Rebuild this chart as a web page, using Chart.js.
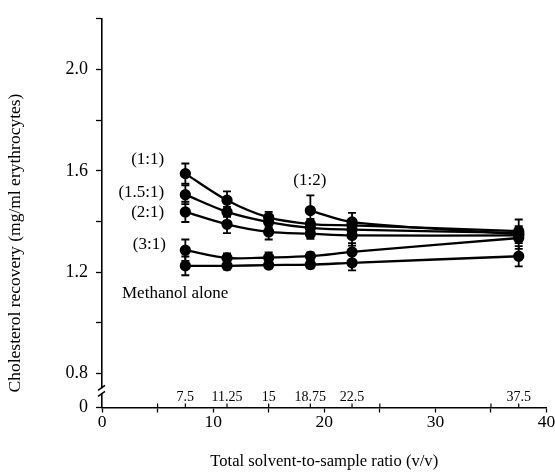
<!DOCTYPE html>
<html>
<head>
<meta charset="utf-8">
<script src="https://cdn.jsdelivr.net/npm/chart.js@4/dist/chart.umd.min.js"></script>
<style>
  html, body { margin: 0; padding: 0; background: #fff; }
  #wrap { width: 555px; height: 472px; }
</style>
</head>
<body>
<div id="wrap"><canvas id="c" width="555" height="472"></canvas></div>
<script>
// ---------- data ----------
const ratios = [7.5, 11.25, 15, 18.75, 22.5, 37.5];
const ratios12 = [18.75, 22.5, 37.5];

const s11   = [1.589, 1.484, 1.416, 1.390, 1.385, 1.362];
const s11e  = [0.040, 0.035, 0.022, 0.020, 0.020, 0.020];
const s151  = [1.506, 1.438, 1.398, 1.375, 1.368, 1.355];
const s151e = [0.037, 0.020, 0.020, 0.020, 0.020, 0.020];
const s21   = [1.438, 1.389, 1.359, 1.352, 1.345, 1.345];
const s21e  = [0.040, 0.035, 0.030, 0.020, 0.040, 0.020];
const s31   = [1.287, 1.256, 1.258, 1.263, 1.280, 1.335];
const s31e  = [0.042, 0.018, 0.020, 0.015, 0.035, 0.020];
const sMeth = [1.225, 1.225, 1.228, 1.230, 1.237, 1.263];
const sMethE= [0.037, 0.015, 0.013, 0.015, 0.030, 0.040];
const s12   = [1.443, 1.398, 1.350];
const s12e  = [0.060, 0.036, 0.058];

const seriesNames = ['(1:1)', '(1.5:1)', '(2:1)', '(3:1)', 'Methanol alone', '(1:2)'];

const xTickValues = [0, 5, 10, 15, 20, 25, 30, 35, 40];
const xTickLabels = ['0', '', '10', '', '20', '', '30', '', '40'];
const innerTickValues = [5, 7.5, 11.25, 15, 18.75, 22.5, 25, 35, 37.5];
const innerLabelValues = [7.5, 11.25, 15, 18.75, 22.5, 37.5];
const innerLabels = ['7.5', '11.25', '15', '18.75', '22.5', '37.5'];

const yTickValues = [0.8, 1.0, 1.2, 1.4, 1.6, 1.8, 2.0, 2.2];
const yTickLabels = ['0.8', '', '1.2', '', '1.6', '', '2.0', ''];
const yZeroLabel = '0';

const xTitle = 'Total solvent-to-sample ratio (v/v)';
const yTitle = 'Cholesterol recovery (mg/ml erythrocytes)';

// ---------- styling / layout (not data) ----------
const Y_BOTTOM = 0.666;   // value where the broken axis shows "0"
const Y_TOP = 2.2;
const FONT = '"Liberation Serif", "DejaVu Serif", serif';
const labelPos = [ // data coords, align
  {x: 5.6, y: 1.645, align: 'right'},
  {x: 5.6, y: 1.515, align: 'right'},
  {x: 5.6, y: 1.436, align: 'right'},
  {x: 5.75, y: 1.310, align: 'right'},
  {x: 1.8, y: 1.114, align: 'left'},
  {x: 18.7, y: 1.563, align: 'center'}
];

function pts(xs, ys) { return xs.map((x, i) => ({x: x, y: ys[i]})); }

const seriesData = [
  {xs: ratios, ys: s11, es: s11e},
  {xs: ratios, ys: s151, es: s151e},
  {xs: ratios, ys: s21, es: s21e},
  {xs: ratios, ys: s31, es: s31e},
  {xs: ratios, ys: sMeth, es: sMethE},
  {xs: ratios12, ys: s12, es: s12e}
];

const datasets = seriesData.map((s, i) => ({
  label: seriesNames[i],
  data: pts(s.xs, s.ys),
  errors: s.es,
  borderColor: '#000',
  backgroundColor: '#000',
  borderWidth: 2.3,
  pointRadius: 4.5,
  pointHoverRadius: 4.5,
  pointBackgroundColor: '#000',
  pointBorderColor: '#000',
  tension: 0.3,
  fill: false
}));

const decor = {
  id: 'decor',
  beforeDatasetsDraw(chart) {
    const ctx = chart.ctx, xs = chart.scales.x, ys = chart.scales.y;
    ctx.save();
    ctx.strokeStyle = '#000';
    ctx.lineWidth = 1.8;
    chart.data.datasets.forEach(ds => {
      ds.data.forEach((p, i) => {
        const e = ds.errors[i];
        const px = xs.getPixelForValue(p.x);
        const y1 = ys.getPixelForValue(p.y + e);
        const y2 = ys.getPixelForValue(p.y - e);
        ctx.beginPath();
        ctx.moveTo(px, y1); ctx.lineTo(px, y2);
        ctx.moveTo(px - 4, y1); ctx.lineTo(px + 4, y1);
        ctx.moveTo(px - 4, y2); ctx.lineTo(px + 4, y2);
        ctx.stroke();
      });
    });
    ctx.restore();
  },
  afterDraw(chart) {
    const ctx = chart.ctx, xs = chart.scales.x, ys = chart.scales.y;
    const area = chart.chartArea;
    ctx.save();
    ctx.fillStyle = '#000';
    ctx.strokeStyle = '#000';
    // inner ticks pointing up from the x axis
    ctx.lineWidth = 1.2;
    const y0 = area.bottom;
    innerTickValues.forEach(v => {
      const px = xs.getPixelForValue(v);
      ctx.beginPath(); ctx.moveTo(px, y0); ctx.lineTo(px, y0 - 4); ctx.stroke();
    });
    ctx.font = '14px ' + FONT;
    ctx.textAlign = 'center';
    ctx.textBaseline = 'alphabetic';
    innerLabelValues.forEach((v, i) => {
      ctx.fillText(innerLabels[i], xs.getPixelForValue(v), y0 - 7);
    });
    // axis break
    const ax = area.left;
    const yb = ys.getPixelForValue(0.73);
    ctx.fillStyle = '#fff';
    ctx.fillRect(ax - 3, yb - 3, 6, 5);
    ctx.strokeStyle = '#000';
    ctx.lineWidth = 1.5;
    ctx.beginPath();
    ctx.moveTo(ax - 4, yb - 1); ctx.lineTo(ax + 3, yb - 6);
    ctx.moveTo(ax - 4, yb + 5); ctx.lineTo(ax + 3, yb);
    ctx.stroke();
    // series labels
    ctx.fillStyle = '#000';
    ctx.font = '17px ' + FONT;
    ctx.textBaseline = 'middle';
    labelPos.forEach((p, i) => {
      ctx.textAlign = p.align;
      ctx.fillText(seriesNames[i], xs.getPixelForValue(p.x), ys.getPixelForValue(p.y));
    });
    // axis titles
    ctx.font = '16.6px ' + FONT;
    ctx.textAlign = 'center';
    ctx.textBaseline = 'middle';
    ctx.fillText(xTitle, (area.left + area.right) / 2, 462);
    ctx.font = '17.5px ' + FONT;
    ctx.translate(15, 243);
    ctx.rotate(-Math.PI / 2);
    ctx.fillText(yTitle, 0, 0);
    ctx.restore();
  }
};

new Chart(document.getElementById('c'), {
  type: 'line',
  data: { datasets: datasets },
  options: {
    responsive: false,
    animation: false,
    events: [],
    layout: { padding: { top: 18, right: 8.5, left: 0, bottom: 0 } },
    plugins: { legend: { display: false }, tooltip: { enabled: false } },
    scales: {
      x: {
        type: 'linear',
        min: 0, max: 40,
        afterFit: s => { s.height = 64.5; },
        afterBuildTicks: s => { s.ticks = xTickValues.map(v => ({value: v})); },
        border: { display: true, color: '#000', width: 1.6 },
        grid: { display: true, drawOnChartArea: false, drawTicks: true, tickLength: 5, tickColor: '#000', tickWidth: 1.3, color: '#000' },
        ticks: {
          color: '#000',
          font: { family: FONT, size: 17.5 },
          padding: -1,
          maxRotation: 0,
          autoSkip: false,
          callback: (v) => { const i = xTickValues.indexOf(v); return i >= 0 ? xTickLabels[i] : ''; }
        }
      },
      y: {
        type: 'linear',
        min: Y_BOTTOM, max: Y_TOP,
        afterFit: s => { s.width = 102; },
        afterBuildTicks: s => { s.ticks = [Y_BOTTOM].concat(yTickValues).map(v => ({value: v})); },
        border: { display: true, color: '#000', width: 1.6 },
        grid: { display: true, drawOnChartArea: false, drawTicks: true, tickLength: 6, tickColor: '#000', tickWidth: 1.3, color: '#000' },
        ticks: {
          color: '#000',
          font: { family: FONT, size: 18 },
          padding: 8,
          autoSkip: false,
          callback: (v) => {
            if (Math.abs(v - Y_BOTTOM) < 1e-6) return yZeroLabel;
            const i = yTickValues.findIndex(t => Math.abs(t - v) < 1e-6);
            return i >= 0 ? yTickLabels[i] : '';
          }
        }
      }
    }
  },
  plugins: [decor]
});
</script>
</body>
</html>
